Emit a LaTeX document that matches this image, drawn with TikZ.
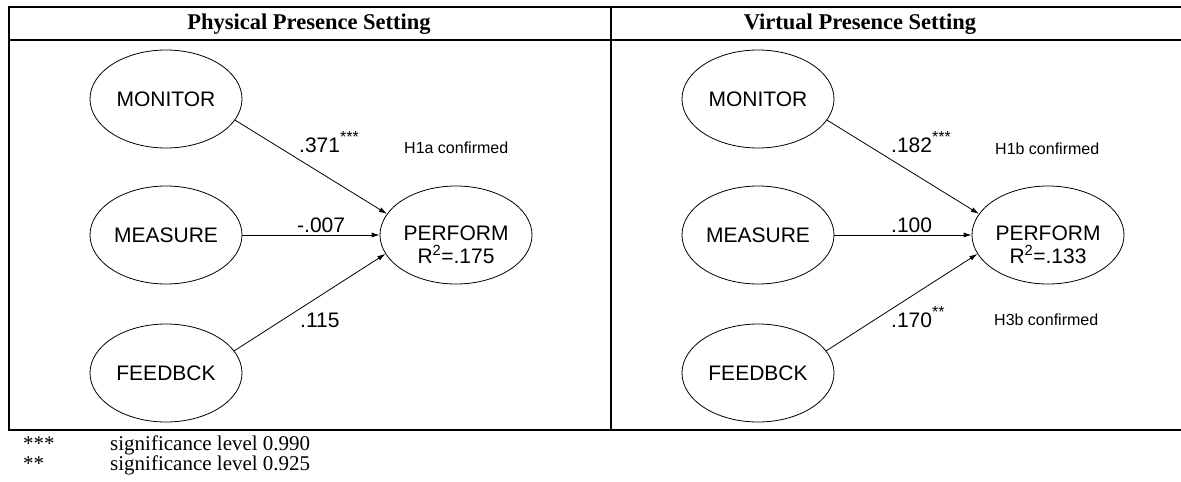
\documentclass[tikz,border=0pt]{standalone}
\usepackage{fontspec}
\setmainfont{Liberation Serif}
\newfontfamily\diagfont{Liberation Sans}
\usetikzlibrary{arrows.meta,positioning,shapes.geometric}

\newcommand{\sigmark}[1]{\raisebox{10pt}{\fontsize{16}{16}\selectfont #1}}

\begin{document}
\begin{tikzpicture}[x=1pt, y=-1pt, >={Latex[length=8pt,width=5pt]}]

    % Styles
    \tikzstyle{frame} = [line width=2.5pt, line join=miter]
    \tikzstyle{latent} = [ellipse, draw, line width=0.8pt, minimum width=152pt, minimum height=98pt, inner sep=0pt, font=\diagfont\fontsize{21}{21}\selectfont]
    \tikzstyle{caption} = [inner sep=0pt, align=center, font=\diagfont\fontsize{21}{22.5}\selectfont]
    \tikzstyle{coef} = [anchor=base west, inner sep=0pt, font=\diagfont\fontsize{21}{21}\selectfont]
    \tikzstyle{hyp} = [anchor=base west, inner sep=0pt, font=\diagfont\fontsize{16}{16}\selectfont]
    \tikzstyle{heading} = [inner sep=0pt, font=\bfseries\fontsize{22.5}{27}\selectfont]
    \tikzstyle{note} = [anchor=base west, inner sep=0pt, font=\fontsize{21}{21}\selectfont]
    \tikzstyle{arrow} = [->, line width=0.8pt]

    \useasboundingbox (0,0) rectangle (1181,482);

    % Table frame
    \draw[frame] (1181,7) -- (9,7) -- (9,430) -- (1181,430);
    \draw[frame] (9,40) -- (1181,40);
    \draw[frame] (611,7) -- (611,430);

    % Headings
    \node[heading] (phys_head) at (309,24) {Physical Presence Setting};
    \node[heading] (virt_head) at (860,24) {Virtual Presence Setting};

    % Physical presence model
    \node[latent] (monitor_a) at (166,99) {MONITOR};
    \node[latent] (measure_a) at (166,235) {MEASURE};
    \node[latent] (feedbck_a) at (166,373) {FEEDBCK};
    \node[latent] (perform_a) at (456,235) {};
    \node[caption] (perform_a_txt) at (456,245) {PERFORM\\R\textsuperscript{2}=.175};

    % Virtual presence model
    \node[latent] (monitor_b) at (758,99) {MONITOR};
    \node[latent] (measure_b) at (758,235) {MEASURE};
    \node[latent] (feedbck_b) at (758,373) {FEEDBCK};
    \node[latent] (perform_b) at (1048,235) {};
    \node[caption] (perform_b_txt) at (1048,245) {PERFORM\\R\textsuperscript{2}=.133};

    % Path coefficients
    \node[coef] (monitor_a_coef) at (299,152) {.371\sigmark{***}};
    \node[hyp] (monitor_a_hyp) at (404,153) {H1a confirmed};
    \node[coef] (measure_a_coef) at (297,232) {-.007};
    \node[coef] (feedbck_a_coef) at (300,327) {.115};

    \node[coef] (monitor_b_coef) at (891,152) {.182\sigmark{***}};
    \node[hyp] (monitor_b_hyp) at (995,154) {H1b confirmed};
    \node[coef] (measure_b_coef) at (891,232) {.100};
    \node[coef] (feedbck_b_coef) at (891,327) {.170\sigmark{**}};
    \node[hyp] (feedbck_b_hyp) at (994,325) {H3b confirmed};

    % Arrows
    \draw[arrow] (monitor_a.-17) -- (perform_a.163);
    \draw[arrow] (measure_a) -- (perform_a);
    \draw[arrow] (feedbck_a.18) -- (perform_a.195);

    \draw[arrow] (monitor_b.-17) -- (perform_b.163);
    \draw[arrow] (measure_b) -- (perform_b);
    \draw[arrow] (feedbck_b.18) -- (perform_b.195);

    % Significance notes
    \node[note] (sig3_mark) at (23,450) {***};
    \node[note] (sig3_text) at (110,450) {significance level 0.990};
    \node[note] (sig2_mark) at (23,470) {**};
    \node[note] (sig2_text) at (110,470) {significance level 0.925};

\end{tikzpicture}
\end{document}
